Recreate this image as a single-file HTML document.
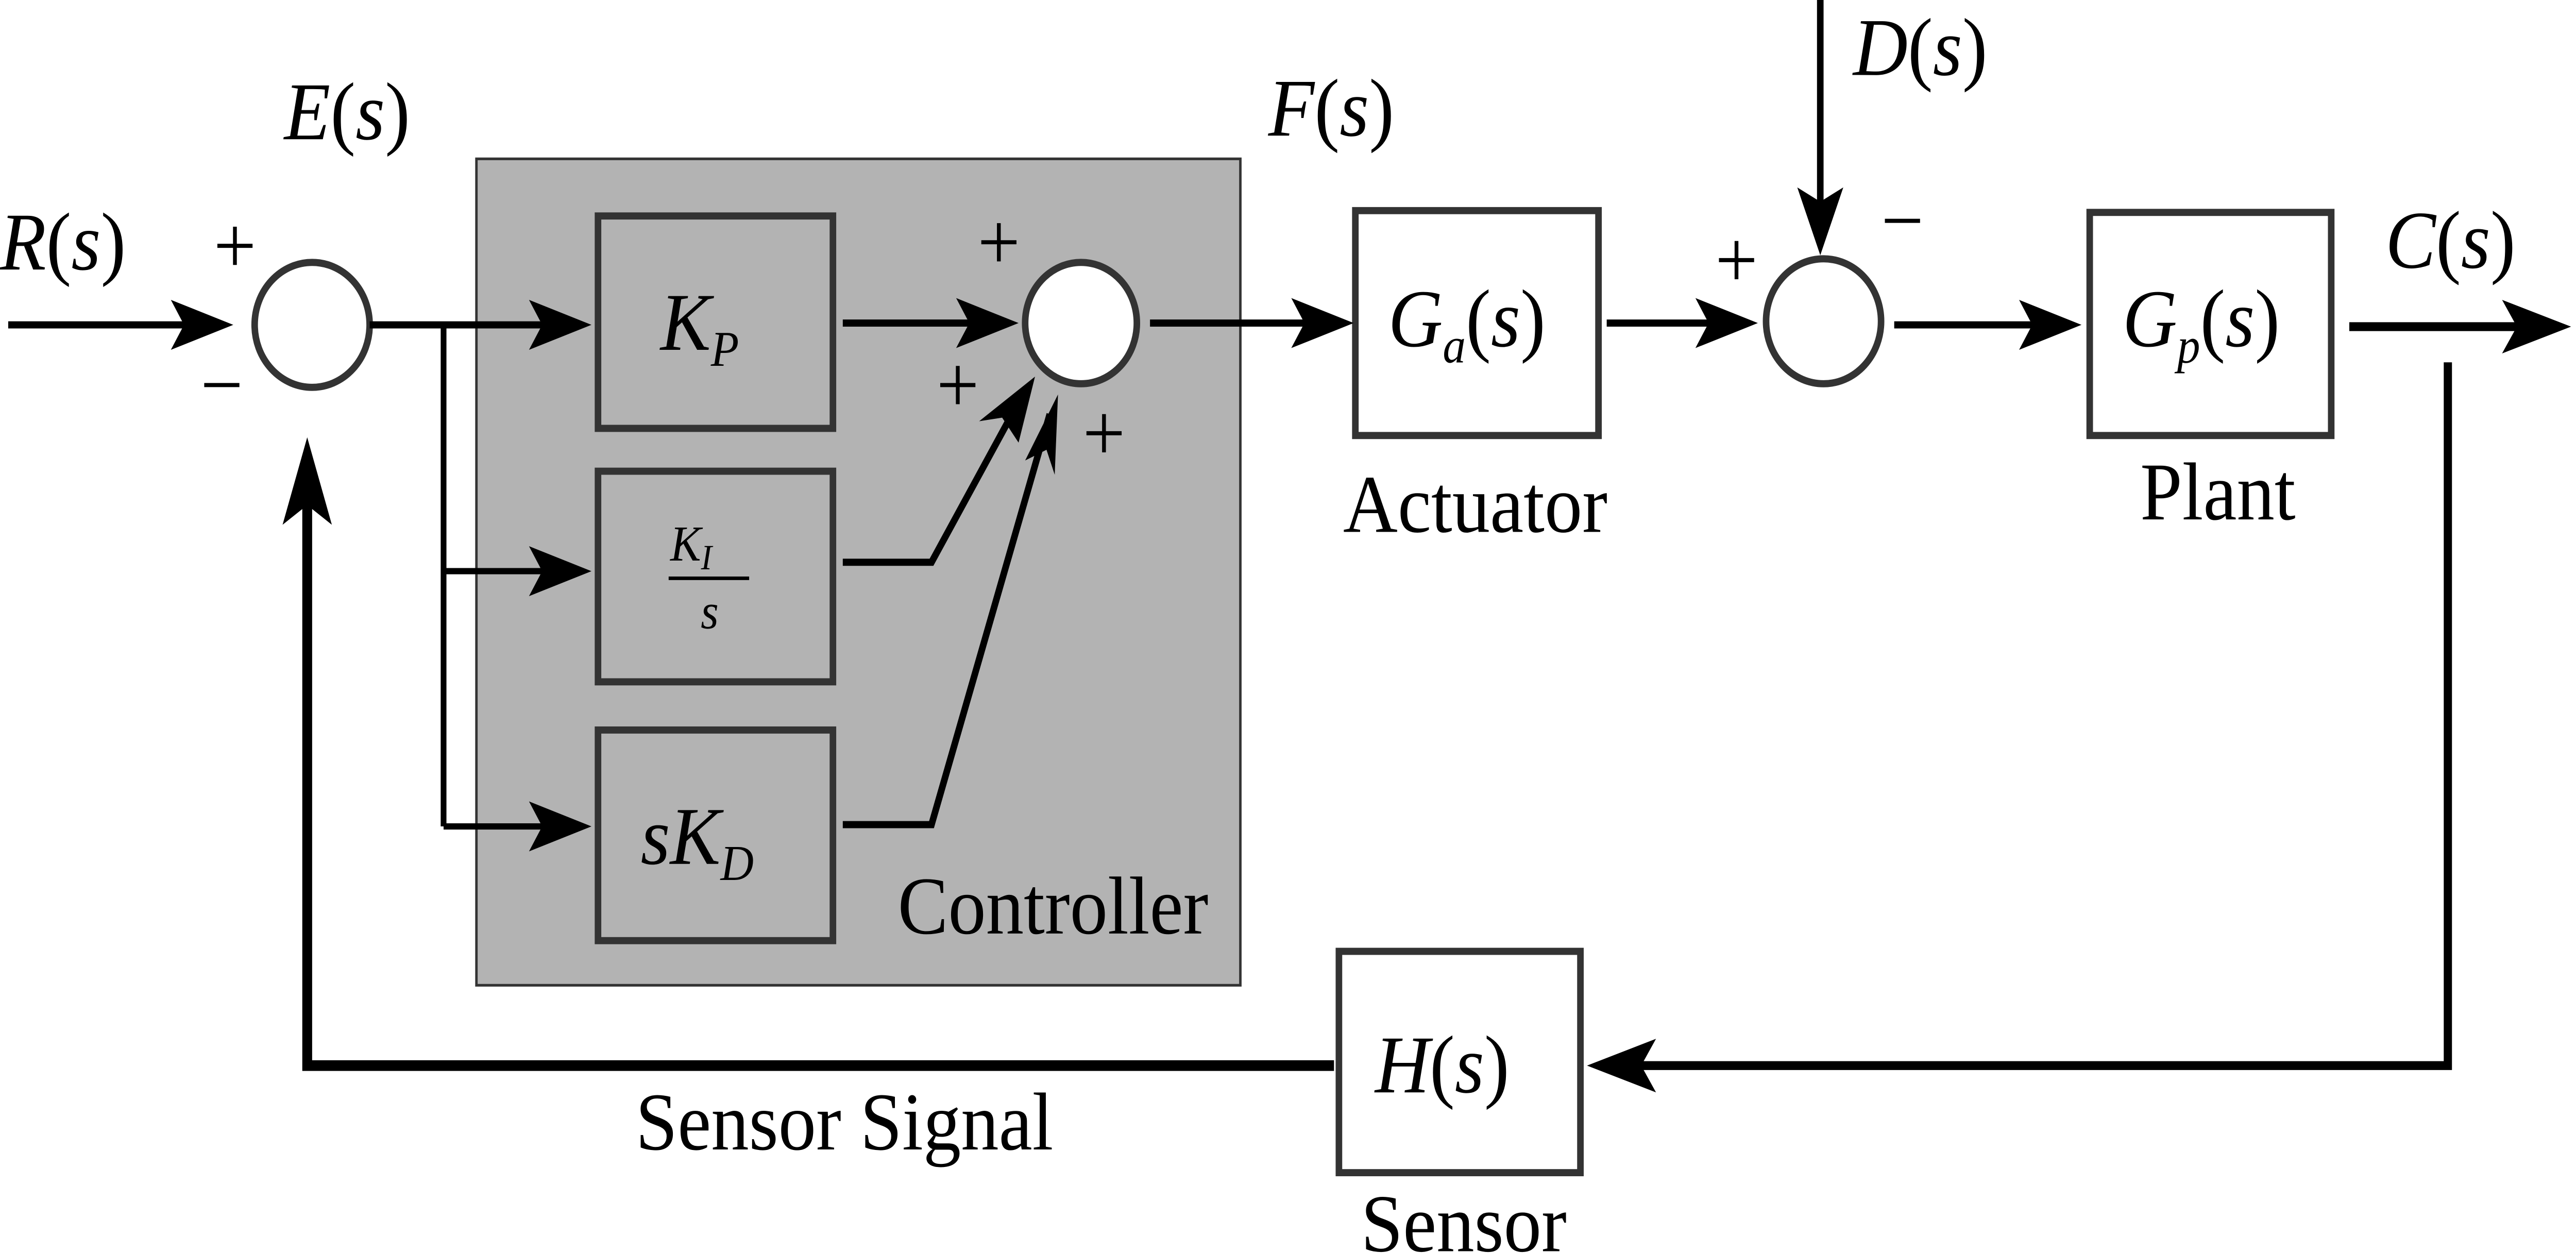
<!DOCTYPE html>
<html><head><meta charset="utf-8"><style>
html,body{margin:0;padding:0;background:#fff;width:100%;height:100%;overflow:hidden}
svg{display:block;position:fixed;left:0;top:0;width:100vw;height:100vh}
text{font-family:"Liberation Serif",serif;fill:#000}
.m{font-style:italic}
</style></head><body>
<svg viewBox="0 0 1568 702" preserveAspectRatio="none" xmlns="http://www.w3.org/2000/svg">

<rect x="290" y="89" width="465" height="463" fill="#b3b3b3" stroke="#333" stroke-width="1.5"/>
<text x="641" y="523" font-size="46" text-anchor="middle">Controller</text>

<g stroke="#333" stroke-width="4" fill="#fff">
<circle cx="190" cy="182" r="35"/>
<circle cx="658" cy="181" r="34"/>
<circle cx="1110" cy="180" r="35"/>
<rect x="364" y="121" width="143" height="119" fill="none"/>
<rect x="364" y="264" width="143" height="118" fill="none"/>
<rect x="364" y="409" width="143" height="118" fill="none"/>
<rect x="825" y="118" width="148" height="126"/>
<rect x="1272" y="119" width="147" height="125"/>
<rect x="815" y="533" width="147" height="124"/>
</g>

<g stroke="#000" fill="none" stroke-width="4">
<polyline points="5,182 130,182"/>
<polyline points="225,182 348,182"/>
<polyline points="270,182 270,463" stroke-width="3.5"/>
<polyline points="270,320 348,320" stroke-width="3.5"/>
<polyline points="270,463 348,463" stroke-width="3.5"/>
<polyline points="513,181 608,181"/>
<polyline points="513,315 567,315 622,222"/>
<polyline points="513,462 567,462 639,232"/>
<polyline points="700,181 812,181"/>
<polyline points="978,181 1058,181"/>
<polyline points="1108,0 1108,130"/>
<polyline points="1153,182 1255,182"/>
<polyline points="1430,183 1550,183" stroke-width="5"/>
<polyline points="1490,203 1490,597 980,597" stroke-width="5"/>
<polyline points="812,597 187,597 187,262" stroke-width="6"/>
</g>

<g fill="#000">
<polygon points="142,182 104,168 112,182 104,196"/>
<polygon points="360,182 322,168 330,182 322,196"/>
<polygon points="360,320 322,306 330,320 322,334"/>
<polygon points="360,463 322,449 330,463 322,477"/>
<polygon points="620,181 582,167 590,181 582,195"/>
<polygon points="824,181 786,167 794,181 786,195"/>
<polygon points="1070,181 1032,167 1040,181 1032,195"/>
<polygon points="1267,182 1229,168 1237,182 1229,196"/>
<polygon points="1565,183 1523,168 1532,183 1523,198"/>
<polygon points="1108,143 1094,105 1108,113 1122,105"/>
<polygon points="966,597 1008,582 999,597 1008,612"/>
<polygon points="187,245 172,294 187,283 202,294"/>
<polygon points="630,211 596,236 610,234 620,248"/>
<polygon points="644,221 624,258 637,252 642,266"/>
</g>

<g font-size="46">
<text x="0" y="151" class="m">R<tspan font-style="normal">(</tspan>s<tspan font-style="normal">)</tspan></text>
<text x="173" y="78" class="m">E<tspan font-style="normal">(</tspan>s<tspan font-style="normal">)</tspan></text>
<text x="772" y="76" class="m">F<tspan font-style="normal">(</tspan>s<tspan font-style="normal">)</tspan></text>
<text x="1128" y="42" class="m">D<tspan font-style="normal">(</tspan>s<tspan font-style="normal">)</tspan></text>
<text x="1452" y="150" class="m">C<tspan font-style="normal">(</tspan>s<tspan font-style="normal">)</tspan></text>
<text x="402" y="196" class="m">K<tspan font-size="28" dy="9">P</tspan></text>
<text x="408" y="314" font-size="28" class="m">K<tspan font-size="20" dy="5">I</tspan></text>
<line x1="407" y1="324" x2="456" y2="324" stroke="#000" stroke-width="2"/>
<text x="432" y="352" font-size="28" class="m" text-anchor="middle">s</text>
<text x="390" y="484" class="m">sK<tspan font-size="28" dy="9">D</tspan></text>
<text x="845" y="194" class="m">G<tspan font-size="28" dy="9">a</tspan><tspan font-style="normal" dy="-9">(</tspan>s<tspan font-style="normal">)</tspan></text>
<text x="1292" y="194" class="m">G<tspan font-size="28" dy="9">p</tspan><tspan font-style="normal" dy="-9">(</tspan>s<tspan font-style="normal">)</tspan></text>
<text x="837" y="612" class="m">H<tspan font-style="normal">(</tspan>s<tspan font-style="normal">)</tspan></text>
<text x="898" y="298" text-anchor="middle">Actuator</text>
<text x="1350" y="291" text-anchor="middle">Plant</text>
<text x="891" y="701" text-anchor="middle">Sensor</text>
<text x="514" y="644" text-anchor="middle">Sensor Signal</text>
<text x="143" y="153" text-anchor="middle">+</text>
<text x="135" y="231" text-anchor="middle">−</text>
<text x="608" y="151" text-anchor="middle">+</text>
<text x="583" y="231" text-anchor="middle">+</text>
<text x="672" y="258" text-anchor="middle">+</text>
<text x="1057" y="161" text-anchor="middle">+</text>
<text x="1158" y="139" text-anchor="middle">−</text>
</g>
</svg>
</body></html>
